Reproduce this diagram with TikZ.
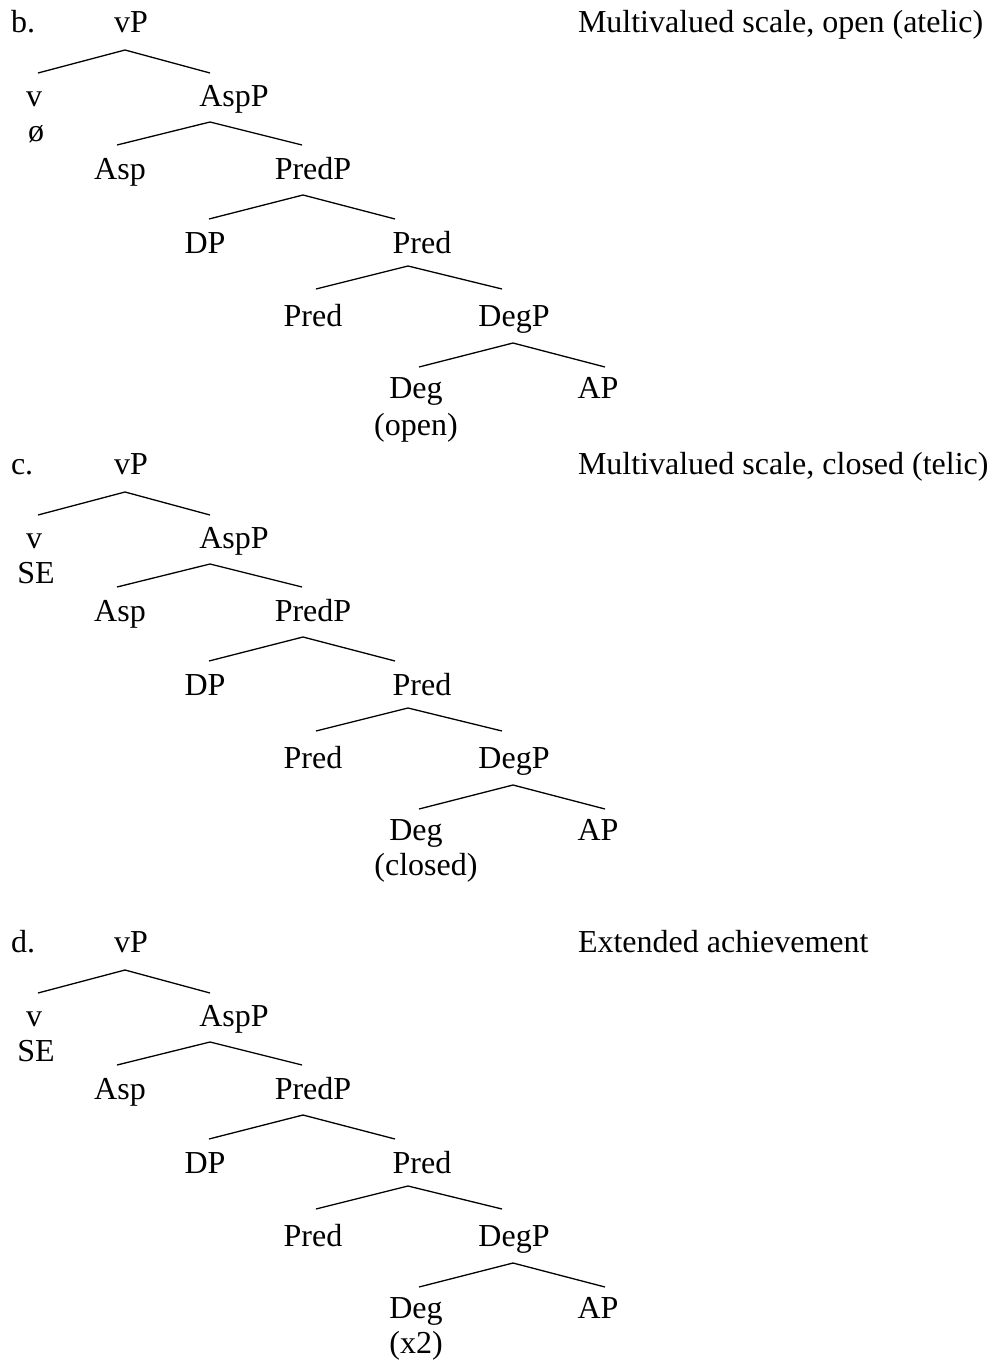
\documentclass[tikz,border=0pt]{standalone}
\usepackage{fontspec}
\setmainfont{Liberation Serif}
\tikzset{
  lbl/.style={anchor=base, inner sep=0pt, outer sep=0pt, font=\fontsize{32}{38}\selectfont},
  lblw/.style={lbl, anchor=base west},
  branch/.style={line width=1.3pt, line join=miter},
}
\newcommand{\mytree}[6]{%
  % #1 prefix, #2 y-offset, #3 letter, #4 right label, #5 v lexical, #6 deg lexical (x pos then text)
  \begin{scope}[shift={(0,#2)}]
    \node[lblw] (#1ex) at (11,32) {#3};
    \node[lblw] (#1desc) at (578,32) {#4};
    \node[lbl] (#1vP) at (131,32) {vP};
    \node[lbl] (#1v) at (34,106) {v};
    \node[lbl] (#1vlex) at (36,141) {#5};
    \node[lbl] (#1AspP) at (234,106) {AspP};
    \node[lbl] (#1Asp) at (120,179) {Asp};
    \node[lbl] (#1PredP) at (313,179) {PredP};
    \node[lbl] (#1DP) at (205,253) {DP};
    \node[lbl] (#1Predbar) at (422,253) {Pred};
    \node[lbl] (#1Pred) at (313,326) {Pred};
    \node[lbl] (#1DegP) at (514,326) {DegP};
    \node[lbl] (#1Deg) at (416,398) {Deg};
    \node[lbl] (#1AP) at (598,398) {AP};
    \node[lbl] (#1deglex) at #6;
    % branch points
    \coordinate (#1a1) at (125,50);  \coordinate (#1l1) at (38,73);   \coordinate (#1r1) at (210,73);
    \coordinate (#1a2) at (210,122); \coordinate (#1l2) at (117,145); \coordinate (#1r2) at (302,145);
    \coordinate (#1a3) at (303,195); \coordinate (#1l3) at (209,219); \coordinate (#1r3) at (395,219);
    \coordinate (#1a4) at (408,266); \coordinate (#1l4) at (316,289); \coordinate (#1r4) at (502,289);
    \coordinate (#1a5) at (513,343); \coordinate (#1l5) at (419,367); \coordinate (#1r5) at (605,367);
    \draw[branch] (#1l1) -- (#1a1) -- (#1r1);
    \draw[branch] (#1l2) -- (#1a2) -- (#1r2);
    \draw[branch] (#1l3) -- (#1a3) -- (#1r3);
    \draw[branch] (#1l4) -- (#1a4) -- (#1r4);
    \draw[branch] (#1l5) -- (#1a5) -- (#1r5);
  \end{scope}%
}
\begin{document}
\begin{tikzpicture}[x=1pt,y=-1pt]
\useasboundingbox (0,0) rectangle (989,1365);
\fill[white] (0,0) rectangle (989,1365);
\mytree{b}{0}{b.}{Multivalued scale, open (atelic)}{ø}{(416,435) {(open)}}
\mytree{c}{442}{c.}{Multivalued scale, closed (telic)}{SE}{(426,433) {(closed)}}
\mytree{d}{920}{d.}{Extended achievement}{SE}{(416,433) {(x2)}}
\end{tikzpicture}
\end{document}
